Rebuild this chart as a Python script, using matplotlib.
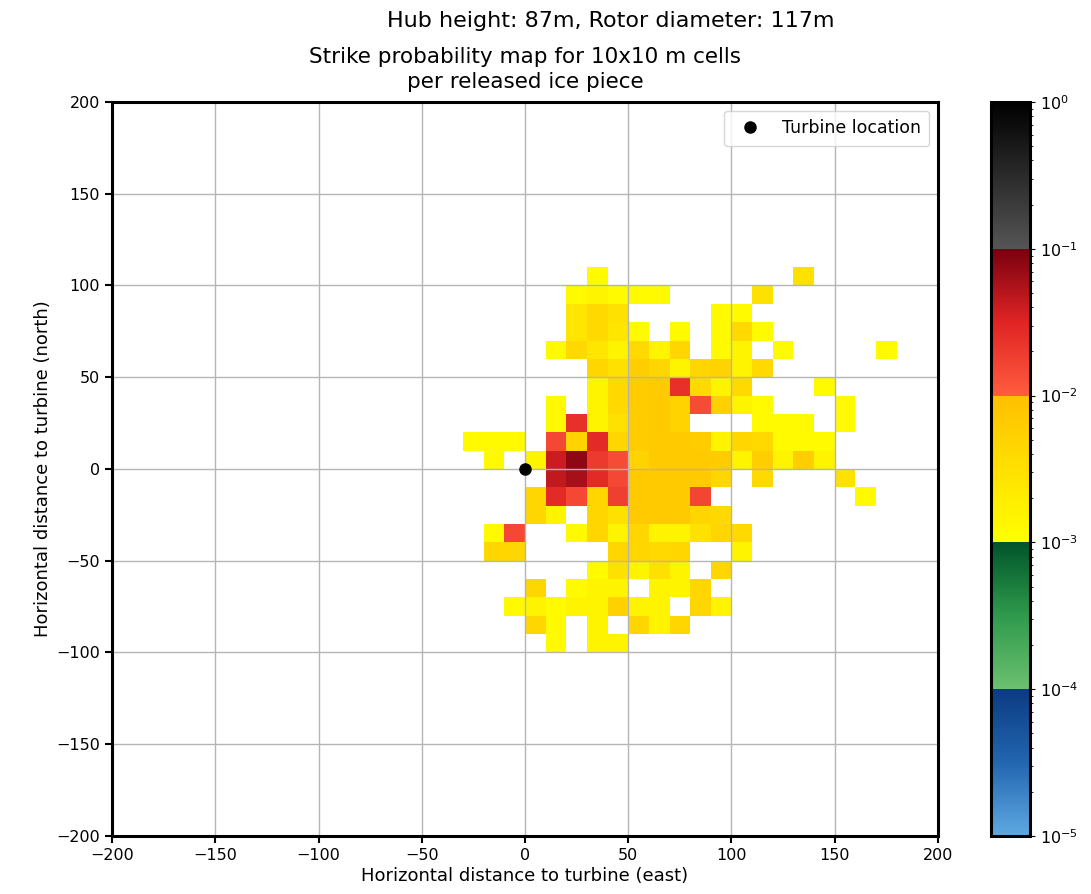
import numpy as np
import matplotlib
matplotlib.use("Agg")
import matplotlib.pyplot as plt
from matplotlib.colors import LogNorm, ListedColormap, to_rgb
from matplotlib.ticker import LogLocator

# cell edges (m), 10x10 m cells
x_edges = np.arange(-30, 181, 10)
y_edges = np.arange(-100, 111, 10)

# strike probability per cell, in units of 1e-3, rows from north (y=100..110)
# down to south (y=-100..-90), columns from x=-30 to x=180; 0 = no hit
prob_e3 = [
    [0, 0, 0, 0, 0, 0, 1.2, 0, 0, 0, 0, 0, 0, 0, 0, 0, 3, 0, 0, 0, 0],
    [0, 0, 0, 0, 0, 1.2, 1.5, 1.2, 1.2, 1.2, 0, 0, 0, 0, 3, 0, 0, 0, 0, 0, 0],
    [0, 0, 0, 0, 0, 2.5, 4, 3, 0, 0, 0, 0, 1.2, 1.2, 0, 0, 0, 0, 0, 0, 0],
    [0, 0, 0, 0, 0, 2.5, 4, 2.5, 1.2, 0, 1.2, 0, 1.2, 4, 1.2, 0, 0, 0, 0, 0, 0],
    [0, 0, 0, 0, 1.2, 4, 2.5, 1.5, 4, 1.5, 4.5, 0, 1.2, 1.5, 0, 1.2, 0, 0, 0, 0, 1.2],
    [0, 0, 0, 0, 0, 0, 4.5, 3, 6, 4.5, 1.5, 4.5, 5, 1.5, 4, 0, 0, 0, 0, 0, 0],
    [0, 0, 0, 0, 0, 0, 1.5, 4, 6.5, 7, 25, 4, 1.5, 4, 0, 0, 0, 1.2, 0, 0, 0],
    [0, 0, 0, 0, 1.2, 0, 1.5, 4, 6.5, 7, 5, 14, 5.5, 1.5, 1.2, 0, 0, 0, 1.2, 0, 0],
    [0, 0, 0, 0, 1.2, 25, 1.5, 3, 6.5, 7, 5, 0, 0, 0, 1.2, 1.2, 1.2, 0, 1.2, 0, 0],
    [1.2, 1.2, 1.2, 0, 15, 5, 28, 4.5, 6.5, 7, 7, 6.5, 1.5, 4.5, 4, 1.2, 1.2, 1.2, 0, 0, 0],
    [0, 1.2, 0, 1.5, 40, 80, 20, 14, 5, 7, 7, 7, 6.5, 1.5, 6, 1.5, 6, 1.5, 0, 0, 0],
    [0, 0, 0, 0, 45, 60, 28, 15, 7, 7, 7, 7, 4.5, 0, 4, 0, 0, 0, 3, 0, 0],
    [0, 0, 0, 4.5, 28, 15, 4.5, 18, 7, 7, 7, 16, 0, 0, 0, 0, 0, 0, 0, 1.2, 0],
    [0, 0, 0, 4.5, 1.5, 0, 4.5, 3, 7, 7, 7, 4.5, 4, 0, 0, 0, 0, 0, 0, 0, 0],
    [0, 1.2, 15, 0, 0, 1.2, 4.5, 1.5, 4.5, 1.5, 1.5, 3, 4.5, 4, 0, 0, 0, 0, 0, 0, 0],
    [0, 4.5, 4.5, 0, 0, 0, 0, 4.5, 4.5, 4, 4.5, 0, 0, 1.5, 0, 0, 0, 0, 0, 0, 0],
    [0, 0, 0, 0, 0, 0, 1.2, 3, 1.5, 3, 1.5, 0, 4.5, 0, 0, 0, 0, 0, 0, 0, 0],
    [0, 0, 0, 4.5, 0, 1.2, 1.5, 1.5, 0, 1.5, 1.5, 4.5, 0, 0, 0, 0, 0, 0, 0, 0, 0],
    [0, 0, 1.2, 1.5, 1.2, 1.5, 1.5, 5.5, 1.5, 1.5, 0, 4.5, 1.5, 0, 0, 0, 0, 0, 0, 0, 0],
    [0, 0, 0, 4.5, 1.2, 0, 1.5, 0, 4.5, 1.5, 4.5, 0, 0, 0, 0, 0, 0, 0, 0, 0, 0],
    [0, 0, 0, 0, 1.2, 0, 1.5, 1.5, 0, 0, 0, 0, 0, 0, 0, 0, 0, 0, 0, 0, 0],
]

turbine_x = [0]
turbine_y = [0]
ticks = [-200, -150, -100, -50, 0, 50, 100, 150, 200]

# one colour ramp per decade, 1e-5 .. 1e0 (bottom, middle, top)
decade_colors = [
    ("#5ea9e2", "#2266b0", "#0b3b82"),
    ("#6cc070", "#2f9a4c", "#00552a"),
    ("#ffff00", "#ffe000", "#ffc000"),
    ("#ff5c3e", "#e02424", "#7a0010"),
    ("#555555", "#2a2a2a", "#000000"),
]


def make_cmap():
    parts = []
    for lo, mid, hi in decade_colors:
        t = np.linspace(0, 1, 256)
        stops = np.array([to_rgb(lo), to_rgb(mid), to_rgb(hi)])
        rgb = np.column_stack(
            [np.interp(t, [0, 0.5, 1], stops[:, k]) for k in range(3)])
        parts.append(rgb)
    return ListedColormap(np.vstack(parts))


def main():
    prob = np.array(prob_e3)[::-1] * 1e-3
    prob = np.ma.masked_where(prob <= 0, prob)

    fig = plt.figure(figsize=(10.91, 8.94), dpi=100)
    ax = fig.add_axes([0.1027, 0.0649, 0.757, 0.821])
    cax = fig.add_axes([0.908, 0.0649, 0.036, 0.821])

    mesh = ax.pcolormesh(x_edges, y_edges, prob, cmap=make_cmap(),
                         norm=LogNorm(vmin=1e-5, vmax=1))
    ax.plot(turbine_x, turbine_y, "o", color="black", markersize=8,
            label="Turbine location", zorder=3)

    ax.set_xlim(-200, 200)
    ax.set_ylim(-200, 200)
    ax.set_xticks(ticks)
    ax.set_yticks(ticks)
    ax.grid(True, color="#b5b5b5", linewidth=1)
    for s in ax.spines.values():
        s.set_linewidth(2.2)
    ax.tick_params(labelsize=11.5, width=1.5, length=5)

    ax.set_xlabel("Horizontal distance to turbine (east)", fontsize=13, labelpad=3)
    ax.set_ylabel("Horizontal distance to turbine (north)", fontsize=13, labelpad=3)
    ax.set_title("Strike probability map for 10x10 m cells\nper released ice piece",
                 fontsize=15.5, pad=10, linespacing=1.35)
    fig.text(0.56, 0.976, "Hub height: 87m, Rotor diameter: 117m",
             ha="center", va="center", fontsize=16)
    ax.legend(loc="upper right", fontsize=12.5, borderpad=0.5)

    cb = fig.colorbar(mesh, cax=cax)
    cb.outline.set_linewidth(2.2)
    cb.ax.yaxis.set_minor_locator(LogLocator(base=10, subs=np.arange(2, 10)))
    cb.ax.tick_params(labelsize=11.5)

    fig.savefig("out.png", dpi=100)


if __name__ == "__main__":
    main()
